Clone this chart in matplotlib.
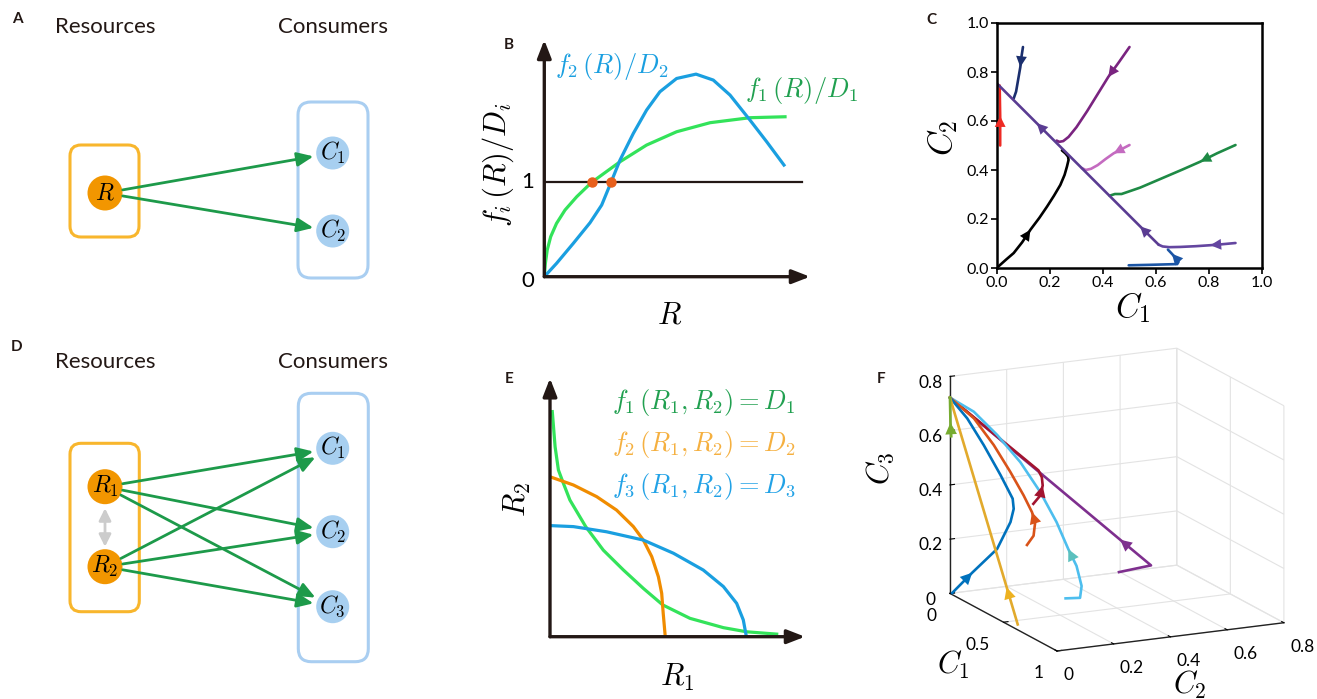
import matplotlib
matplotlib.use("Agg")
import matplotlib.pyplot as plt
from matplotlib.patches import FancyBboxPatch, Circle
from mpl_toolkits.mplot3d import proj3d

plt.rcParams['font.family'] = ['Lato', 'DejaVu Sans']
plt.rcParams['mathtext.fontset'] = 'cm'
plt.rcParams['grid.color'] = '#E3E3E3'
plt.rcParams['grid.linewidth'] = 0.8

# ---- panel B: growth curves (R, f/D) ----
b_f1_R = [0, 0.004, 0.011, 0.024, 0.046, 0.078, 0.122, 0.178, 0.285, 0.385, 0.498, 0.624, 0.774, 0.906]
b_f1_y = [0, 0.141, 0.283, 0.424, 0.565, 0.707, 0.848, 1.0, 1.219, 1.396, 1.537, 1.633, 1.686, 1.696]
b_f2_R = [0, 0.046, 0.109, 0.172, 0.216, 0.251, 0.285, 0.335, 0.385, 0.435, 0.498, 0.571, 0.636, 0.699, 0.774, 0.837, 0.902]
b_f2_y = [0, 0.141, 0.353, 0.572, 0.760, 1.0, 1.237, 1.519, 1.767, 1.961, 2.102, 2.148, 2.085, 1.926, 1.661, 1.431, 1.184]
b_level = 1.0
b_cross_R = [0.178, 0.251]

# ---- panel E: zero-growth isoclines (R1, R2) ----
e_f1_R1 = [0.009, 0.020, 0.033, 0.050, 0.078, 0.140, 0.209, 0.288, 0.366, 0.442, 0.549, 0.680, 0.771, 0.889]
e_f1_R2 = [0.871, 0.735, 0.645, 0.600, 0.529, 0.426, 0.335, 0.258, 0.187, 0.123, 0.071, 0.035, 0.019, 0.010]
e_f2_R1 = [0, 0.092, 0.183, 0.261, 0.327, 0.366, 0.399, 0.425, 0.438, 0.444, 0.452]
e_f2_R2 = [0.619, 0.587, 0.542, 0.490, 0.426, 0.374, 0.310, 0.232, 0.168, 0.090, 0.0]
e_f3_R1 = [0, 0.092, 0.222, 0.366, 0.484, 0.601, 0.680, 0.732, 0.758, 0.769]
e_f3_R2 = [0.430, 0.426, 0.406, 0.374, 0.323, 0.258, 0.194, 0.129, 0.065, 0.006]

# ---- panel C: trajectories (C1, C2), arrow segment index ----
c_traj = [
    ('#000000', [0.006, 0.035, 0.063, 0.095, 0.126, 0.16, 0.189, 0.215, 0.239, 0.255, 0.264, 0.27, 0.268, 0.258, 0.245],
                [0.007, 0.035, 0.061, 0.105, 0.156, 0.205, 0.251, 0.295, 0.339, 0.38, 0.414, 0.441, 0.455, 0.468, 0.48], 3),
    ('#1B2F6E', [0.098, 0.092, 0.088, 0.080, 0.072, 0.063], [0.902, 0.86, 0.82, 0.77, 0.72, 0.692], 1),
    ('#EE2A24', [0.012, 0.012, 0.012, 0.010], [0.50, 0.56, 0.62, 0.745], 1),
    ('#7A2480', [0.50, 0.46, 0.42, 0.38, 0.34, 0.30, 0.27, 0.25, 0.235, 0.225],
                [0.902, 0.84, 0.78, 0.71, 0.64, 0.575, 0.535, 0.518, 0.515, 0.52], 1),
    ('#C46BC0', [0.50, 0.47, 0.44, 0.41, 0.38, 0.355, 0.335, 0.32],
                [0.502, 0.485, 0.468, 0.445, 0.42, 0.405, 0.40, 0.408], 1),
    ('#1E8A45', [0.90, 0.83, 0.767, 0.70, 0.62, 0.54, 0.47, 0.445, 0.425],
                [0.502, 0.468, 0.434, 0.402, 0.365, 0.328, 0.302, 0.302, 0.295], 1),
    ('#6446A0', [0.90, 0.85, 0.805, 0.75, 0.692, 0.65, 0.625, 0.61],
                [0.102, 0.097, 0.093, 0.089, 0.086, 0.085, 0.088, 0.095], 1),
    ('#1B55A5', [0.497, 0.58, 0.68, 0.685, 0.675, 0.66, 0.645],
                [0.011, 0.013, 0.016, 0.025, 0.04, 0.058, 0.075], 4),
    ('#5A3C92', [0.61, 0.54, 0.15, 0.0], [0.095, 0.17, 0.591, 0.753], 0),
]
c_extra_arrows = [(8, 1)]

# ---- panel F: 3D trajectories (C1, C2, C3), arrow segment index ----
f_traj = [
    ('#7E2F8E', '#7E2F8E', [0, 0, 0, 0], [0.596, 0.709, 0.60, 0.0], [0.001, 0.011, 0.12, 0.722], 1),
    ('#A2142F', '#A2142F', [0, 0, 0, 0, 0, 0], [0.294, 0.318, 0.327, 0.324, 0.312, 0.0],
     [0.292, 0.319, 0.355, 0.386, 0.413, 0.722], 1),
    ('#4DBEEE', '#5BC0BE', [0.296, 0.333, 0.337, 0.324, 0.303, 0.273, 0.231, 0.180, 0.121, 0.061, 0.0],
     [0.296, 0.333, 0.337, 0.324, 0.303, 0.273, 0.231, 0.180, 0.121, 0.061, 0.0],
     [0.006, 0.011, 0.055, 0.128, 0.188, 0.285, 0.393, 0.499, 0.594, 0.675, 0.722], 3),
    ('#D95319', '#D95319', [0.309, 0.336, 0.343, 0.329, 0.296, 0.243, 0.176, 0.096, 0.0],
     [0.155, 0.168, 0.171, 0.165, 0.148, 0.121, 0.088, 0.048, 0.0],
     [0.224, 0.262, 0.313, 0.348, 0.405, 0.484, 0.573, 0.660, 0.722], 2),
    ('#0072BD', '#0072BD', [0.016, 0.149, 0.316, 0.404, 0.426, 0.419, 0.338, 0.226, 0.116, 0.0],
     [0.002, 0.022, 0.047, 0.061, 0.064, 0.063, 0.051, 0.034, 0.017, 0.0],
     [0.005, 0.105, 0.225, 0.341, 0.394, 0.430, 0.501, 0.590, 0.668, 0.722], 0),
    ('#E2AA2C', '#EDB120', [0.633, 0.53, 0.0], [0, 0, 0], [0.02, 0.135, 0.722], 0),
    ('#77AC30', '#77AC30', [0.004, 0.002, 0.0], [0.003, 0.001, 0.0], [0.58, 0.63, 0.722], 0),
]

# ---- panels A / D: network diagrams ----
a_resources = ['$R$']
a_consumers = ['$C_1$', '$C_2$']
a_links = [(0, 0), (0, 1)]
d_resources = ['$R_1$', '$R_2$']
d_consumers = ['$C_1$', '$C_2$', '$C_3$']
d_links = [(0, 0), (0, 1), (0, 2), (1, 0), (1, 1), (1, 2)]

W, H = 1317, 699
fig = plt.figure(figsize=(W / 100, H / 100), dpi=100)


def px_axes(x0, y0, x1, y1, **kw):
    return fig.add_axes([x0 / W, 1 - y1 / H, (x1 - x0) / W, (y1 - y0) / H], **kw)


def arrow_axes(ax):
    for s in ax.spines.values():
        s.set_visible(False)
    ax.set_xticks([])
    ax.set_yticks([])
    ax.set_facecolor('none')
    kw = dict(arrowstyle='-|>,head_length=0.9,head_width=0.35', color='#231815', lw=2.4,
              shrinkA=0, shrinkB=0, mutation_scale=12)
    ax.annotate('', xy=(1, 0), xytext=(0, 0), xycoords='axes fraction', arrowprops=kw)
    ax.annotate('', xy=(0, 1), xytext=(0, 0), xycoords='axes fraction', arrowprops=kw)


# Panel B
axB = px_axes(544.3, 40, 810, 276.7)
axB.set_xlim(0, 1)
axB.set_ylim(0, 2.51)
arrow_axes(axB)
axB.plot([0.005, 0.971], [b_level, b_level], color='#231815', lw=1.6)
axB.plot(b_f1_R, b_f1_y, color='#33E35A', lw=2.3)
axB.plot(b_f2_R, b_f2_y, color='#1A9FE0', lw=2.3)
axB.plot(b_cross_R, [b_level] * 2, 'o', color='#E8601C', ms=6.5, zorder=5)

# Panel E
axE = px_axes(550, 378.3, 805, 636.7)
axE.set_xlim(0, 1)
axE.set_ylim(0, 1)
arrow_axes(axE)
axE.plot(e_f1_R1, e_f1_R2, color='#33E35A', lw=2.3)
axE.plot(e_f2_R1, e_f2_R2, color='#F08C00', lw=2.3)
axE.plot(e_f3_R1, e_f3_R2, color='#1A9FE0', lw=2.3)


# Panel C
def head2d(ax, x0, y0, x1, y1, color, ms=13):
    ax.annotate('', xy=(x1, y1), xytext=(x0, y0),
                arrowprops=dict(arrowstyle='-|>,head_length=0.6,head_width=0.3', color=color,
                                lw=0, mutation_scale=ms, shrinkA=0, shrinkB=0))


axC = px_axes(997, 23, 1262, 268)
axC.set_facecolor('none')
for col, xs, ys, k in c_traj:
    axC.plot(xs, ys, color=col, lw=1.9, solid_capstyle='round')
    head2d(axC, xs[k], ys[k], xs[k + 1], ys[k + 1], col)
for t, k in c_extra_arrows:
    col, xs, ys, _ = c_traj[t]
    head2d(axC, xs[k], ys[k], xs[k + 1], ys[k + 1], col)
axC.set_xlim(0, 1)
axC.set_ylim(0, 1)
ticks = [0, 0.2, 0.4, 0.6, 0.8, 1.0]
axC.set_xticks(ticks)
axC.set_yticks(ticks)
axC.set_xticklabels([f'{t:.1f}' for t in ticks])
axC.set_yticklabels([f'{t:.1f}' for t in ticks])
axC.tick_params(direction='out', length=4, width=1.2, labelsize=11.5, pad=2)
for s in axC.spines.values():
    s.set_linewidth(1.8)

# Panel F (3D)
axF = px_axes(930, 322.5, 1294, 686.5, projection='3d', proj_type='ortho')
axF.set_facecolor('none')
axF.view_init(elev=15, azim=-25.7)
axF.set_box_aspect((1, 1.02, 0.91), zoom=1.115)
for col, hcol, xs, ys, zs, k in f_traj:
    axF.plot(xs, ys, zs, color=col, lw=1.9)
axF.set_xlim(0, 1)
axF.set_ylim(0, 0.8)
axF.set_zlim(0, 0.8)
axF.set_xticks([0, 0.5, 1])
axF.set_xticklabels(['0', '0.5', '1'], ha='right')
axF.set_yticks([0, 0.2, 0.4, 0.6, 0.8])
axF.set_yticklabels(['0', '0.2', '0.4', '0.6', '0.8'], ha='left')
axF.set_zticks([0, 0.2, 0.4, 0.6, 0.8])
axF.set_zticklabels(['0', '0.2', '0.4', '0.6', '0.8'])
for a in (axF.xaxis, axF.yaxis, axF.zaxis):
    a.set_pane_color((1, 1, 1, 0))
    a.pane.set_edgecolor('#E3E3E3')
    a.line.set_color('#222222')
    a.line.set_linewidth(1.0)
    a._axinfo['tick']['inward_factor'] = 0.0
    a._axinfo['tick']['outward_factor'] = 0.25
axF.zaxis.set_ticks_position('lower')
axF.tick_params(labelsize=12.5, pad=0)

fig.canvas.draw()
M = axF.M
for col, hcol, xs, ys, zs, k in f_traj:
    px, py, _ = proj3d.proj_transform(xs[k:k + 2], ys[k:k + 2], zs[k:k + 2], M)
    head2d(axF, px[0], py[0], px[1], py[1], hcol, ms=14)

# overlay in pixel coordinates for diagrams and labels
ov = fig.add_axes([0, 0, 1, 1])
ov.set_xlim(0, W)
ov.set_ylim(H, 0)
ov.axis('off')
ov.patch.set_visible(False)


def network(res, cons, links, res_y, cons_y, rbox, cbox):
    ov.add_patch(FancyBboxPatch((rbox[0], rbox[1]), rbox[2] - rbox[0], rbox[3] - rbox[1],
                                boxstyle='round,pad=0,rounding_size=11', fc='none', ec='#F8B62D', lw=2.2))
    ov.add_patch(FancyBboxPatch((cbox[0], cbox[1]), cbox[2] - cbox[0], cbox[3] - cbox[1],
                                boxstyle='round,pad=0,rounding_size=13', fc='none', ec='#A9CEF1', lw=2.2))
    rx, cx = 105, 332.7
    for name, y in zip(res, res_y):
        ov.add_patch(Circle((rx, y), 17.5, color='#F29600', lw=0))
        ov.text(rx, y, name, ha='center', va='center', fontsize=17)
    for name, y in zip(cons, cons_y):
        ov.add_patch(Circle((cx, y), 16.5, color='#A7CFF0', lw=0))
        ov.text(cx, y, name, ha='center', va='center', fontsize=17)
    for i, j in links:
        x0, y0, x1, y1 = rx, res_y[i], cx, cons_y[j]
        d = ((x1 - x0) ** 2 + (y1 - y0) ** 2) ** 0.5
        ux, uy = (x1 - x0) / d, (y1 - y0) / d
        ov.annotate('', xy=(x1 - 19.5 * ux, y1 - 19.5 * uy), xytext=(x0 + 18 * ux, y0 + 18 * uy),
                    arrowprops=dict(arrowstyle='-|>,head_length=0.7,head_width=0.3', color='#1D9A4A',
                                    lw=2, mutation_scale=14, shrinkA=0, shrinkB=0))


network(a_resources, a_consumers, a_links, [193], [153, 231], (70, 145, 139, 237), (298, 102, 368, 278))
network(d_resources, d_consumers, d_links, [486.7, 566.7], [448.3, 531.7, 606.7],
        (70, 443.3, 139.3, 611.7), (298.3, 393.3, 368.3, 661.7))
ov.annotate('', xy=(105, 546.7), xytext=(105, 508.3),
            arrowprops=dict(arrowstyle='<|-|>,head_length=0.6,head_width=0.3', color='#CCCCCC',
                            lw=2, mutation_scale=12, shrinkA=0, shrinkB=0))

for lab, x, y in [('A', 17, 19), ('B', 509, 45), ('C', 931, 20), ('D', 17, 347), ('E', 509, 379), ('F', 881, 379)]:
    ov.text(x, y, lab, ha='center', va='center', fontsize=11, fontweight='bold', color='#231815')
for y in (27, 362):
    ov.text(105, y, 'Resources', ha='center', va='center', fontsize=16, color='#231815')
    ov.text(333, y, 'Consumers', ha='center', va='center', fontsize=16, color='#231815')

# panel B labels
ov.text(498, 165, r'$f_i\,(R)/D_i$', ha='center', va='center', rotation=90, fontsize=22)
ov.text(528, 182, '1', ha='center', va='center', fontsize=16)
ov.text(528, 281, '0', ha='center', va='center', fontsize=16)
ov.text(670, 314, '$R$', ha='center', va='center', fontsize=22)
ov.text(555, 67, r'$f_2\,(R)/D_2$', ha='left', va='center', fontsize=19, color='#1A9FE0')
ov.text(745, 90, r'$f_1\,(R)/D_1$', ha='left', va='center', fontsize=19, color='#21A050')

# panel E labels
ov.text(612, 403, r'$f_1\,(R_1,R_2)=D_1$', ha='left', va='center', fontsize=19, color='#21A050')
ov.text(612, 445, r'$f_2\,(R_1,R_2)=D_2$', ha='left', va='center', fontsize=19, color='#F5B040')
ov.text(612, 487, r'$f_3\,(R_1,R_2)=D_3$', ha='left', va='center', fontsize=19, color='#22A2E6')
ov.text(517, 500, '$R_2$', ha='center', va='center', rotation=90, fontsize=22)
ov.text(677, 677, '$R_1$', ha='center', va='center', fontsize=22)

# panel C / F axis labels
ov.text(943, 138, '$C_2$', ha='center', va='center', rotation=90, fontsize=24)
ov.text(1133, 308, '$C_1$', ha='center', va='center', fontsize=24)
ov.text(880, 468, '$C_3$', ha='center', va='center', rotation=90, fontsize=22)
ov.text(953, 665, '$C_1$', ha='center', va='center', fontsize=22)
ov.text(1190, 685, '$C_2$', ha='center', va='center', fontsize=22)

fig.savefig('out.png', dpi=100)
